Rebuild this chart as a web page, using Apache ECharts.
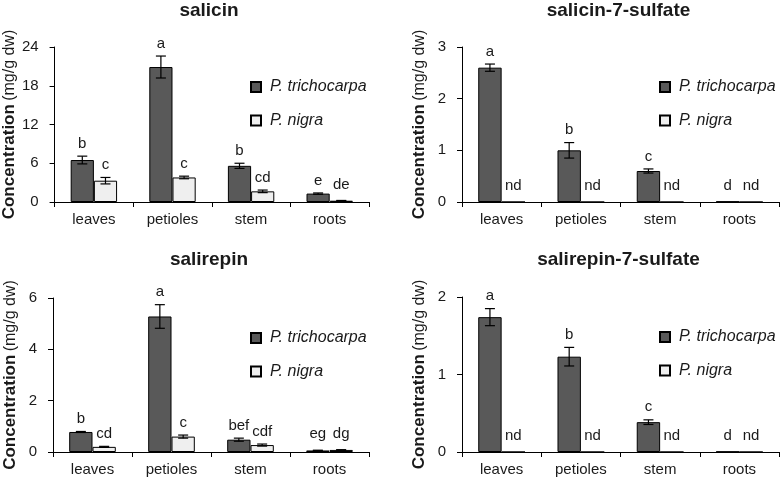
<!DOCTYPE html>
<html><head><meta charset="utf-8">
<script src="https://cdn.jsdelivr.net/npm/echarts@6/dist/echarts.min.js"></script>
<style>html,body{margin:0;padding:0;background:#fff}#c{width:782px;height:477px}</style>
</head><body><div id="c"></div>
<script>
const categories = ['leaves', 'petioles', 'stem', 'roots'];
const speciesNames = ['P. trichocarpa', 'P. nigra'];

const salicinTri = [6.5, 20.9, 5.6, 1.3];
const salicinTriErr = [0.6, 1.7, 0.4, 0.1];
const salicinTriLetters = ['b', 'a', 'b', 'e'];
const salicinNig = [3.3, 3.8, 1.65, 0.2];
const salicinNigErr = [0.5, 0.2, 0.2, 0.04];
const salicinNigLetters = ['c', 'c', 'cd', 'de'];

const salicin7sTri = [2.6, 1.0, 0.6, 0.01];
const salicin7sTriErr = [0.07, 0.15, 0.04, 0];
const salicin7sTriLetters = ['a', 'b', 'c', 'd'];
const salicin7sNig = [0, 0, 0, 0];
const salicin7sNigErr = [0, 0, 0, 0];
const salicin7sNigLetters = ['nd', 'nd', 'nd', 'nd'];

const salirepinTri = [0.78, 5.28, 0.48, 0.06];
const salirepinTriErr = [0.02, 0.46, 0.06, 0.01];
const salirepinTriLetters = ['b', 'a', 'bef', 'eg'];
const salirepinNig = [0.2, 0.6, 0.27, 0.08];
const salirepinNigErr = [0.02, 0.06, 0.04, 0.01];
const salirepinNigLetters = ['cd', 'c', 'cdf', 'dg'];

const salirepin7sTri = [1.74, 1.23, 0.385, 0.005];
const salirepin7sTriErr = [0.11, 0.12, 0.03, 0];
const salirepin7sTriLetters = ['a', 'b', 'c', 'd'];
const salirepin7sNig = [0, 0, 0, 0];
const salirepin7sNigErr = [0, 0, 0, 0];
const salirepin7sNigLetters = ['nd', 'nd', 'nd', 'nd'];

const panels = [
  { title: 'salicin', max: 24, interval: 6, tri: salicinTri, triErr: salicinTriErr, triL: salicinTriLetters, nig: salicinNig, nigErr: salicinNigErr, nigL: salicinNigLetters },
  { title: 'salicin-7-sulfate', max: 3, interval: 1, tri: salicin7sTri, triErr: salicin7sTriErr, triL: salicin7sTriLetters, nig: salicin7sNig, nigErr: salicin7sNigErr, nigL: salicin7sNigLetters },
  { title: 'salirepin', max: 6, interval: 2, tri: salirepinTri, triErr: salirepinTriErr, triL: salirepinTriLetters, nig: salirepinNig, nigErr: salirepinNigErr, nigL: salirepinNigLetters },
  { title: 'salirepin-7-sulfate', max: 2, interval: 1, tri: salirepin7sTri, triErr: salirepin7sTriErr, triL: salirepin7sTriLetters, nig: salirepin7sNig, nigErr: salirepin7sNigErr, nigL: salirepin7sNigLetters }
];

// layout (pixels)
const gridPos = [
  { left: 53, top: 47, width: 316, height: 155 },
  { left: 462, top: 47, width: 317, height: 155 },
  { left: 53, top: 298, width: 316, height: 155 },
  { left: 462, top: 297, width: 317, height: 156 }
];
const legendPos = [
  { left: 250, top: 78 }, { left: 659, top: 78 },
  { left: 250, top: 329 }, { left: 659, top: 328 }
];
const titleTop = [0, 0, 249, 249];
const FONT = 'Liberation Sans, Arial, sans-serif';
const TXT = '#1a1a1a';
const DARK = '#595959';
const LIGHT = '#efefef';
const BAR_FRAC = 0.295;

const option = {
  animation: false,
  backgroundColor: '#fff',
  textStyle: { fontFamily: FONT, color: TXT },
  title: [], grid: [], xAxis: [], yAxis: [], legend: [], series: []
};

panels.forEach((p, i) => {
  const g = gridPos[i];
  option.grid.push(Object.assign({ containLabel: false }, g));
  option.title.push({
    text: p.title, left: g.left + g.width / 2 - 2, top: titleTop[i], textAlign: 'center', padding: 0,
    textStyle: { fontFamily: FONT, fontSize: 19, fontWeight: 'bold', color: TXT, lineHeight: 22 }
  });
  option.xAxis.push({
    type: 'category', gridIndex: i, data: categories,
    axisLine: { lineStyle: { color: '#000', width: 1 } },
    axisTick: { show: true, alignWithLabel: false, length: 5, lineStyle: { color: '#000' } },
    axisLabel: { fontFamily: FONT, fontSize: 15, color: TXT, margin: 10 },
    splitLine: { show: false }
  });
  option.yAxis.push({
    type: 'value', gridIndex: i, min: 0, max: p.max, interval: p.interval,
    name: '{b|Concentration} {n|(mg/g dw)}', nameLocation: 'middle', nameGap: 34,
    nameTextStyle: { rich: {
      b: { fontFamily: FONT, fontSize: 17, fontWeight: 'bold', color: TXT },
      n: { fontFamily: FONT, fontSize: 16, color: TXT }
    } },
    axisLine: { show: true, lineStyle: { color: '#000', width: 1 } },
    axisTick: { show: true, length: 5, lineStyle: { color: '#000' } },
    axisLabel: { fontFamily: FONT, fontSize: 15, color: TXT, margin: 16 },
    splitLine: { show: false }
  });
  option.legend.push({
    left: legendPos[i].left, top: legendPos[i].top, orient: 'vertical', padding: 0,
    itemWidth: 10, itemHeight: 10, itemGap: 15.5, icon: 'rect',
    data: speciesNames,
    textStyle: { fontFamily: FONT, fontSize: 16, fontStyle: 'italic', color: TXT, lineHeight: 18, padding: [0, 0, 0, 4] }
  });
  const sets = [
    { name: speciesNames[0], vals: p.tri, errs: p.triErr, letters: p.triL, color: DARK, side: -1 },
    { name: speciesNames[1], vals: p.nig, errs: p.nigErr, letters: p.nigL, color: LIGHT, side: 1 }
  ];
  sets.forEach(s => {
    option.series.push({
      type: 'bar', name: s.name, xAxisIndex: i, yAxisIndex: i,
      data: s.vals, barWidth: (BAR_FRAC * 100) + '%', barGap: '0%',
      itemStyle: { color: s.color, borderColor: '#000', borderWidth: 1 }
    });
    const axMax = p.max;
    option.series.push({
      type: 'custom', name: s.name + ' err', xAxisIndex: i, yAxisIndex: i, z: 5,
      data: s.vals.map((v, k) => [k, v, s.errs[k]]),
      renderItem: (params, api) => {
        const k = api.value(0), v = api.value(1), e = api.value(2);
        const band = api.size([1, 0])[0];
        const bw = band * BAR_FRAC;
        const cx = api.coord([k, 0])[0] + s.side * bw / 2;
        const yTop = api.coord([k, v + e])[1];
        const yBot = api.coord([k, v - e])[1];
        const children = [];
        if (e > 0) {
          const cap = 5;
          const ls = { stroke: '#000', lineWidth: 1.2 };
          children.push({ type: 'line', shape: { x1: cx, y1: yTop, x2: cx, y2: yBot }, style: ls });
          children.push({ type: 'line', shape: { x1: cx - cap, y1: yTop, x2: cx + cap, y2: yTop }, style: ls });
          children.push({ type: 'line', shape: { x1: cx - cap, y1: yBot, x2: cx + cap, y2: yBot }, style: ls });
        }
        const nearZero = (v + e) < axMax * 0.03;
        const off = nearZero ? 16 : 12.5;
        children.push({
          type: 'text', x: cx, y: yTop - off,
          style: { text: s.letters[k], fill: TXT, font: '15px ' + FONT, align: 'center', verticalAlign: 'middle' }
        });
        return { type: 'group', children };
      }
    });
  });
});

const chart = echarts.init(document.getElementById('c'), null, { renderer: 'canvas' });
chart.setOption(option);
</script>
</body></html>
